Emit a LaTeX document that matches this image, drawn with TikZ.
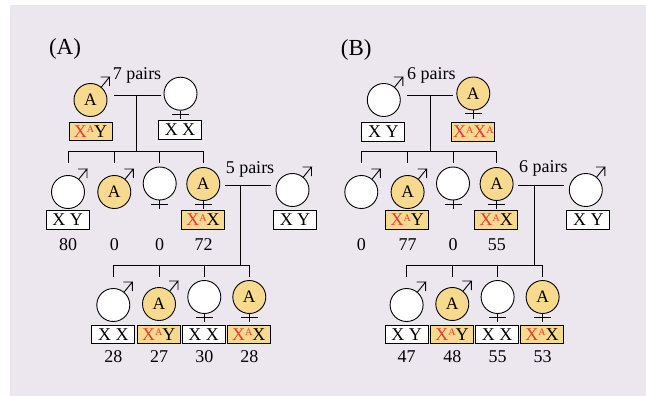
\documentclass[tikz,border=0pt]{standalone}
\usepackage{fontspec}
\setmainfont{Liberation Serif}
\usetikzlibrary{calc}
\definecolor{bg}{HTML}{ECE7EF}
\definecolor{yel}{HTML}{F7DA8E}
\definecolor{xred}{HTML}{E8373A}
% X chromosome carrying the dominant allele A
\newcommand\XA{\textcolor{xred}{X\raisebox{4.8pt}{\fontsize{10}{10}\selectfont A}}}
% male sign: arrow leaving the circle to the upper right
\newcommand\malemark[1]{\draw[ln] (#1.50) -- ($(#1.center)+(19,-23)$) -- ++(-9,0)
  ($(#1.center)+(19,-23)$) -- ++(0,9);}
% female sign: short cross below the circle
\newcommand\femmark[1]{\draw[ln] (#1.south) -- ++(0,8.5) ($(#1.south)+(-8.5,3.5)$) -- ++(17,0);}
\begin{document}
\begin{tikzpicture}[x=1pt,y=-1pt,
  ln/.style={line width=0.9pt},
  ind/.style={circle,draw,line width=0.9pt,minimum size=33pt,inner sep=0pt,fill=white,
    font=\fontsize{17.5}{17.5}\selectfont},
  aff/.style={ind,fill=yel},
  geno/.style={draw,line width=0.9pt,minimum width=43pt,minimum height=18.5pt,inner sep=0pt,
    fill=white,font=\fontsize{18}{18}\selectfont},
  genoa/.style={geno,fill=yel},
  lbl/.style={font=\fontsize{18}{18}\selectfont,inner sep=0pt},
  panel/.style={font=\fontsize{23}{23}\selectfont,inner sep=0pt}]
\useasboundingbox (0,0) rectangle (646,396);
\fill[bg] (10,5) rectangle (646,396);

% ---------------- panel A ----------------
\node[panel] (aLab) at (65,49) {(A)};
% parents
\node[aff] (aF) at (90.5,100) {A}; \malemark{aF}
\node[genoa] (aFg) at (90.5,131.5) {\XA Y};
\node[ind] (aM) at (180.5,93.7) {}; \femmark{aM}
\node[geno] (aMg) at (180,130) {X X};
\node[lbl] (aP1) at (137,75) {7 pairs};
\coordinate (aL1) at (114,95); \coordinate (aR1) at (160.7,95);
\coordinate (aV1) at (136.7,95); \coordinate (aS1) at (136.7,151.7);
\draw[ln] (aL1) -- (aR1) (aV1) -- (aS1);
% first generation of offspring
\node[ind] (aC1) at (68,192) {}; \malemark{aC1}
\node[aff] (aC2) at (114.3,192) {A}; \malemark{aC2}
\node[ind] (aC3) at (159.7,183.5) {}; \femmark{aC3}
\node[aff] (aC4) at (203.3,184) {A}; \femmark{aC4}
\draw[ln] ($(aC1|-aS1)+(0,11)$) -- (aC1|-aS1) -- (aC4|-aS1) -- ++(0,11);
\draw[ln] (aC2|-aS1) -- ++(0,11) (aC3|-aS1) -- ++(0,11);
\node[geno] (aC1g) at (67.7,220) {X Y};
\node[genoa] (aC4g) at (203,220) {\XA X};
\node[lbl] (aN1) at (68,244.3) {80};
\node[lbl] (aN2) at (114.3,244.3) {0};
\node[lbl] (aN3) at (159.7,244.3) {0};
\node[lbl] (aN4) at (203.5,244.3) {72};
% second cross
\node[ind] (aS) at (292.5,190) {}; \malemark{aS}
\node[geno] (aSg) at (295,220) {X Y};
\node[lbl] (aP2) at (250,169.3) {5 pairs};
\coordinate (aL2) at (225,185.7); \coordinate (aR2) at (270.7,185.7);
\coordinate (aV2) at (240.7,185.7); \coordinate (aS2) at (240.7,265);
\draw[ln] (aL2) -- (aR2) (aV2) -- (aS2);
% second generation of offspring
\node[ind] (aG1) at (113.3,305) {}; \malemark{aG1}
\node[aff] (aG2) at (159,304) {A}; \malemark{aG2}
\node[ind] (aG3) at (204.3,297) {}; \femmark{aG3}
\node[aff] (aG4) at (249.3,297) {A}; \femmark{aG4}
\draw[ln] ($(aG1|-aS2)+(0,11.7)$) -- (aG1|-aS2) -- (aG4|-aS2) -- ++(0,11.7);
\draw[ln] (aG2|-aS2) -- ++(0,11.7) (aG3|-aS2) -- ++(0,11.7);
\node[geno] (aG1g) at (113.3,334.2) {X X};
\node[genoa] (aG2g) at (158.7,334.2) {\XA Y};
\node[geno] (aG3g) at (203.7,334.2) {X X};
\node[genoa] (aG4g) at (248.7,334.2) {\XA X};
\node[lbl] (aM1) at (113.3,356.7) {28};
\node[lbl] (aM2) at (159,356.7) {27};
\node[lbl] (aM3) at (204.3,356.7) {30};
\node[lbl] (aM4) at (249.3,356.7) {28};

% ---------------- panel B ----------------
\begin{scope}[xshift=293.3pt]
\node[panel] (bLab) at (63,50) {(B)};
% parents
\node[ind] (bF) at (90.5,100) {}; \malemark{bF}
\node[geno] (bFg) at (90,132) {X Y};
\node[aff] (bM) at (180,93.5) {A}; \femmark{bM}
\node[genoa] (bMg) at (180,132) {\XA\XA};
\node[lbl] (bP1) at (138,75) {6 pairs};
\coordinate (bL1) at (114,95); \coordinate (bR1) at (160,95);
\coordinate (bV1) at (136.7,95); \coordinate (bS1) at (136.7,151.7);
\draw[ln] (bL1) -- (bR1) (bV1) -- (bS1);
% first generation of offspring
\node[ind] (bC1) at (68,192) {}; \malemark{bC1}
\node[aff] (bC2) at (114.3,192) {A}; \malemark{bC2}
\node[ind] (bC3) at (159.7,183.5) {}; \femmark{bC3}
\node[aff] (bC4) at (203.3,184) {A}; \femmark{bC4}
\draw[ln] ($(bC1|-bS1)+(0,11)$) -- (bC1|-bS1) -- (bC4|-bS1) -- ++(0,11);
\draw[ln] (bC2|-bS1) -- ++(0,11) (bC3|-bS1) -- ++(0,11);
\node[genoa] (bC2g) at (114,220) {\XA Y};
\node[genoa] (bC4g) at (203,220) {\XA X};
\node[lbl] (bN1) at (68,244.3) {0};
\node[lbl] (bN2) at (114.3,244.3) {77};
\node[lbl] (bN3) at (159.7,244.3) {0};
\node[lbl] (bN4) at (203.5,244.3) {55};
% second cross
\node[ind] (bS) at (292.5,190) {}; \malemark{bS}
\node[geno] (bSg) at (295,220) {X Y};
\node[lbl] (bP2) at (250,168) {6 pairs};
\coordinate (bL2) at (225,185.7); \coordinate (bR2) at (270.7,185.7);
\coordinate (bV2) at (240.7,185.7); \coordinate (bS2) at (240.7,265);
\draw[ln] (bL2) -- (bR2) (bV2) -- (bS2);
% second generation of offspring
\node[ind] (bG1) at (113.3,305) {}; \malemark{bG1}
\node[aff] (bG2) at (159,304) {A}; \malemark{bG2}
\node[ind] (bG3) at (204.3,297) {}; \femmark{bG3}
\node[aff] (bG4) at (249.3,297) {A}; \femmark{bG4}
\draw[ln] ($(bG1|-bS2)+(0,11.7)$) -- (bG1|-bS2) -- (bG4|-bS2) -- ++(0,11.7);
\draw[ln] (bG2|-bS2) -- ++(0,11.7) (bG3|-bS2) -- ++(0,11.7);
\node[geno] (bG1g) at (113.3,334.2) {X Y};
\node[genoa] (bG2g) at (158.7,334.2) {\XA Y};
\node[geno] (bG3g) at (203.7,334.2) {X X};
\node[genoa] (bG4g) at (248.7,334.2) {\XA X};
\node[lbl] (bM1) at (113.3,356.7) {47};
\node[lbl] (bM2) at (159,356.7) {48};
\node[lbl] (bM3) at (204.3,356.7) {55};
\node[lbl] (bM4) at (249.3,356.7) {53};
\end{scope}
\end{tikzpicture}
\end{document}
